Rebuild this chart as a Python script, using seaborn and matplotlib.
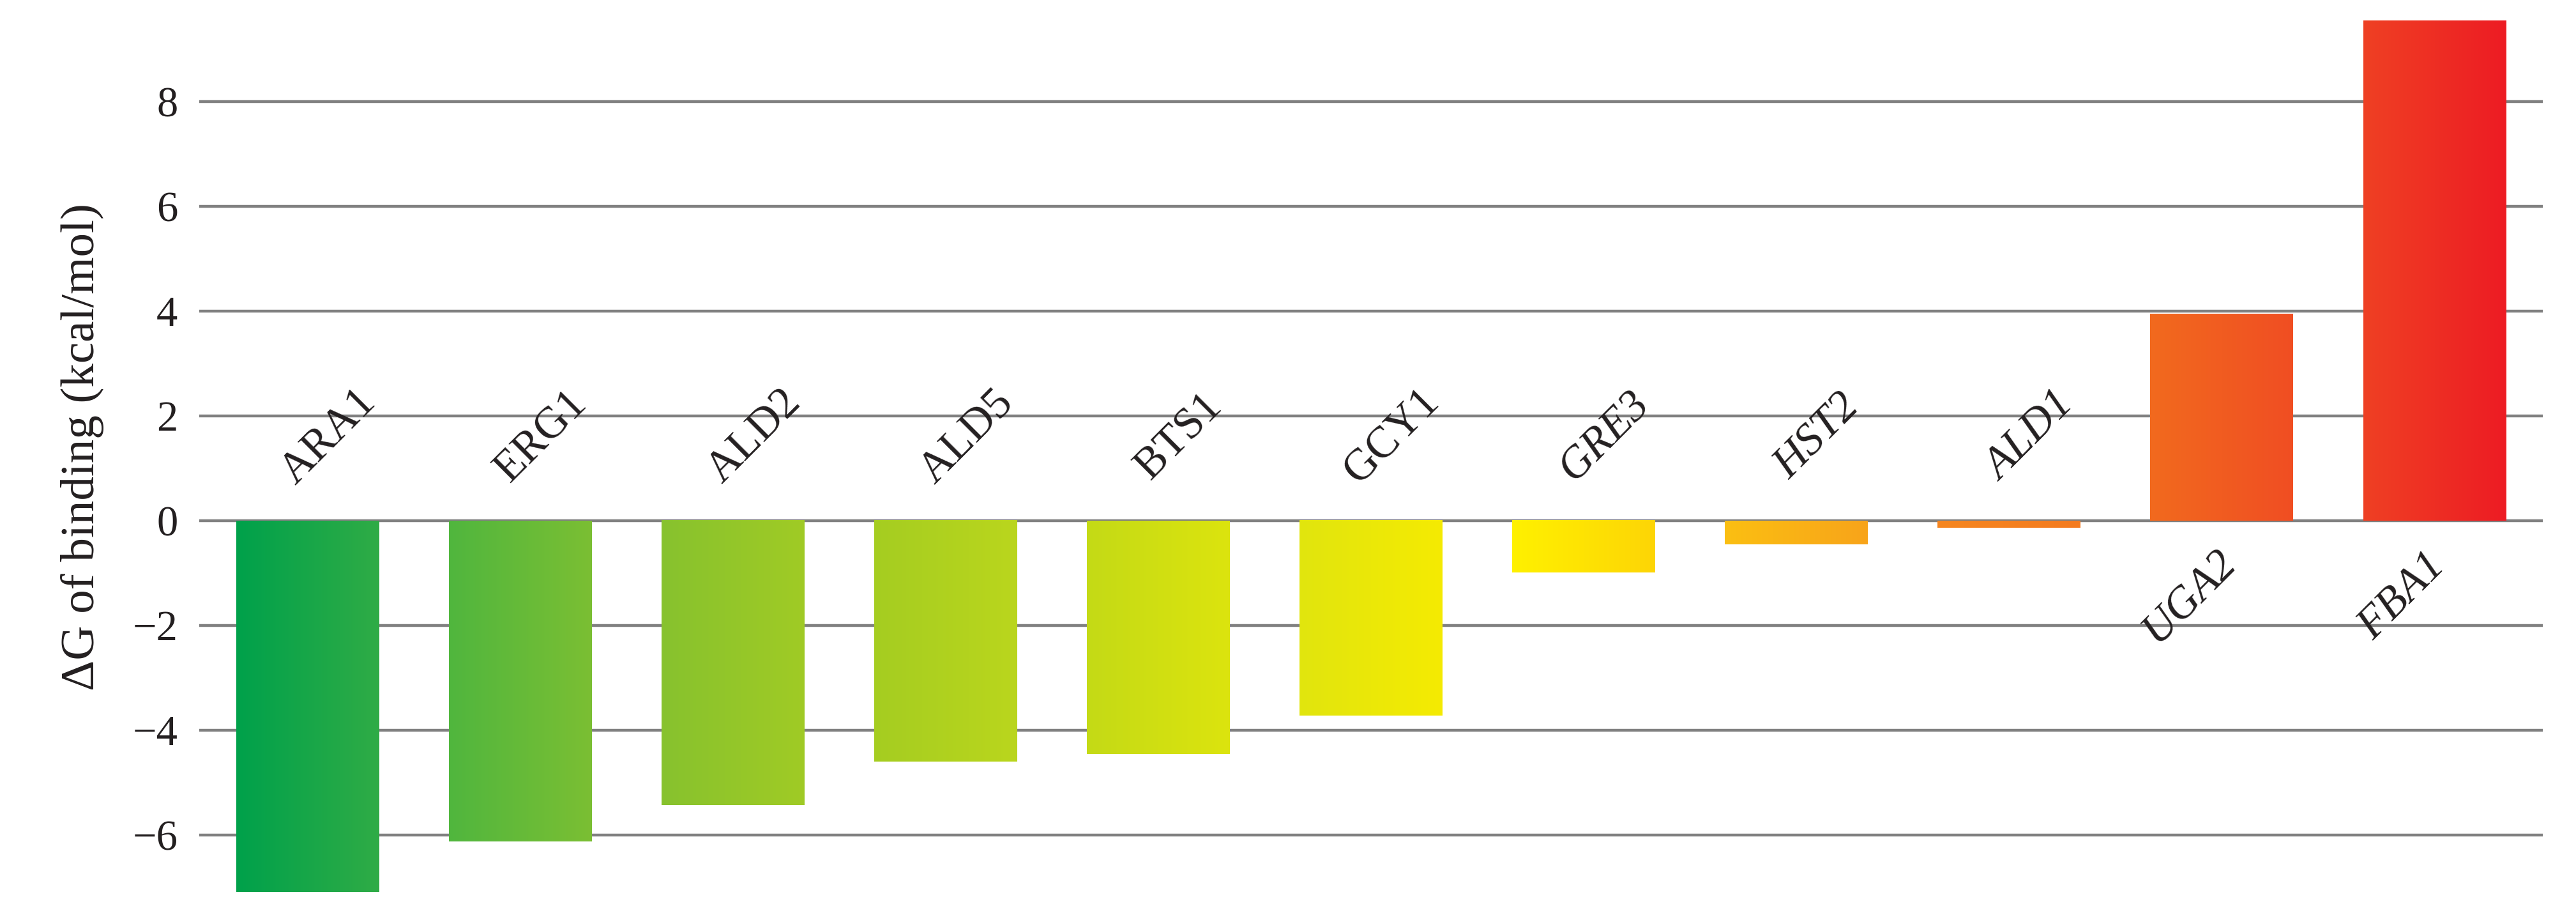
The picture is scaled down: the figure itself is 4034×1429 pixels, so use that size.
import matplotlib
matplotlib.use("Agg")
import numpy as np
import pandas as pd
import seaborn as sns
import matplotlib.pyplot as plt
from matplotlib.colors import LinearSegmentedColormap

# Binding free energies (kcal/mol)
genes = ["ARA1", "ERG1", "ALD2", "ALD5", "BTS1", "GCY1",
         "GRE3", "HST2", "ALD1", "UGA2", "FBA1"]
delta_g = [-7.08, -6.12, -5.43, -4.6, -4.45, -3.72,
           -0.99, -0.45, -0.13, 3.95, 9.54]
italic_genes = ["GRE3", "HST2", "ALD1", "UGA2", "FBA1"]
y_ticks = [-6, -4, -2, 0, 2, 4, 6, 8]

# gradient colours of each bar, left edge -> right edge
left_colors = ["#00a14b", "#50b63e", "#87c22e", "#a5cd21", "#c4da16", "#e1e50e",
               "#fff100", "#fbbf12", "#f6861f", "#f26a1e", "#ef4023"]
right_colors = ["#2fac46", "#7bbf33", "#a0cb25", "#bad61d", "#dce40e", "#f5eb02",
                "#fdd506", "#f8a41a", "#f47b20", "#f04e23", "#ed1c24"]

TEXT = "#231f20"
GRID = "#808080"

sns.set_style("white")
plt.rcParams["font.family"] = ["Liberation Serif", "DejaVu Serif"]

df = pd.DataFrame({"Gene": genes, "dG": delta_g})

fig = plt.figure(figsize=(20.17, 7.145), dpi=200)
ax = fig.add_axes([0.0773, 0.0108, 0.9098, 0.9755])

sns.barplot(data=df, x="Gene", y="dG", ax=ax, width=0.67,
            color="white", linewidth=0, zorder=2)

# replace flat bars with horizontal gradients
grad = np.linspace(0, 1, 256).reshape(1, -1)
for i, patch in enumerate(ax.patches):
    x0, w = patch.get_x(), patch.get_width()
    y0, h = patch.get_y(), patch.get_height()
    cmap = LinearSegmentedColormap.from_list(
        f"bar{i}", [left_colors[i], right_colors[i]])
    ax.imshow(grad, extent=[x0, x0 + w, min(y0, y0 + h), max(y0, y0 + h)],
              aspect="auto", cmap=cmap, zorder=2, interpolation="bilinear")
    patch.set_facecolor("none")

ax.set_xlim(-0.51, len(genes) - 0.49)
ax.set_ylim(-7.3, 9.7)
ax.set_yticks(y_ticks)
ax.yaxis.grid(True, color=GRID, linewidth=1.6)
ax.xaxis.grid(False)
ax.set_axisbelow(True)
sns.despine(ax=ax, left=True, bottom=True)

ax.tick_params(axis="x", length=0, labelbottom=False)
ax.tick_params(axis="y", length=0, pad=12, labelsize=24, labelcolor=TEXT)
ax.set_xlabel("")
ax.set_ylabel("ΔG of binding (kcal/mol)", fontsize=27, color=TEXT)
ax.yaxis.set_label_coords(-0.0406, 0.512)

# rotated gene names: above zero for negative bars, below for positive ones
for i, (g, v) in enumerate(zip(genes, delta_g)):
    style = "italic" if g in italic_genes else "normal"
    if v < 0:
        ax.text(i + 0.1, 1.6, g, rotation=45, ha="center", va="center",
                fontsize=25, style=style, color=TEXT)
    else:
        ax.text(i - 0.15, -1.45, g, rotation=45, ha="center", va="center",
                fontsize=25, style=style, color=TEXT)

fig.savefig("out.png", dpi=200, facecolor="white")
